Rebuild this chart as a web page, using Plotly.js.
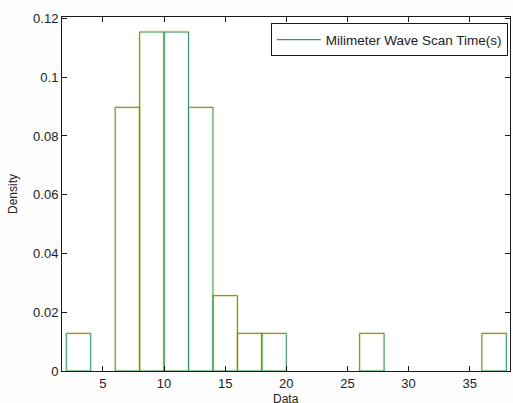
<!DOCTYPE html>
<html>
<head>
<meta charset="utf-8">
<script src="https://cdn.plot.ly/plotly-3.0.1.min.js"></script>
<style>
  html, body { margin: 0; padding: 0; background: #fff; }
  #chart { width: 513px; height: 403px; }
</style>
</head>
<body>
<div id="chart"></div>
<script>
// Histogram of scan times, bins of width 2 from 2 to 38
const binEdgesStart = 2;
const binWidth = 2;
const binCounts = [1, 0, 7, 9, 9, 7, 2, 1, 1, 0, 0, 0, 1, 0, 0, 0, 0, 1];
const seriesName = 'Milimeter Wave Scan Time(s)';
const xTicks = [5, 10, 15, 20, 25, 30, 35];
const yTicks = [0, 0.02, 0.04, 0.06, 0.08, 0.1, 0.12];
const yTickText = ['0', '0.02', '0.04', '0.06', '0.08', '0.1', '0.12'];

const total = binCounts.reduce((a, b) => a + b, 0);
const centers = binCounts.map((_, i) => binEdgesStart + binWidth * (i + 0.5));
const density = binCounts.map(c => c / (total * binWidth));

const green = '#33976e';
const yellow = 'rgba(236,210,110,0.3)';
const font = 'Liberation Sans, Arial, sans-serif';

// empty bins get no outline so nothing is drawn along the baseline
const edgeWidths = (w) => binCounts.map(c => (c > 0 ? w : 0));

const barBase = {
  type: 'bar',
  x: centers,
  y: density,
  width: binWidth,
  showlegend: false,
  hoverinfo: 'skip'
};

const traces = [
  Object.assign({}, barBase, { marker: { color: 'rgba(0,0,0,0)', line: { color: yellow, width: edgeWidths(3) } } }),
  Object.assign({}, barBase, { marker: { color: 'rgba(0,0,0,0)', line: { color: green, width: edgeWidths(1) } } }),
  {
    type: 'scatter', mode: 'lines', x: [null], y: [null],
    name: seriesName, line: { color: green, width: 1.2 }, showlegend: true
  }
];

const axisCommon = {
  showline: true, linecolor: '#1a1a1a', linewidth: 1,
  mirror: 'ticks', ticks: 'inside', ticklen: 5, tickcolor: '#1a1a1a',
  showgrid: false, zeroline: false,
  tickfont: { family: font, size: 13, color: '#222' }
};

const titleFont = { family: font, size: 12, color: '#222' };

const layout = {
  width: 513, height: 403,
  margin: { l: 62, r: 3, t: 17, b: 32 },
  paper_bgcolor: '#fdfdfd', plot_bgcolor: '#ffffff',
  barmode: 'overlay', bargap: 0,
  showlegend: true,
  legend: {
    x: 0.995, y: 0.982, xanchor: 'right', yanchor: 'top',
    bordercolor: '#1a1a1a', borderwidth: 1, bgcolor: '#ffffff',
    itemwidth: 44,
    font: { family: font, size: 13.5, color: '#222' }
  },
  xaxis: Object.assign({}, axisCommon, {
    range: [1.65, 38.3], tickvals: xTicks, ticktext: xTicks.map(String)
  }),
  yaxis: Object.assign({}, axisCommon, {
    range: [0, 0.1205], tickvals: yTicks, ticktext: yTickText
  }),
  // axis titles placed as paper annotations for exact positioning
  annotations: [
    { text: 'Data', xref: 'paper', yref: 'paper', x: 0.5, y: 0, xanchor: 'center', yanchor: 'top',
      yshift: -19, showarrow: false, font: titleFont },
    { text: 'Density', xref: 'paper', yref: 'paper', x: 0, y: 0.5, xanchor: 'center', yanchor: 'middle',
      xshift: -49, textangle: -90, showarrow: false, font: titleFont }
  ]
};

Plotly.newPlot('chart', traces, layout, { displayModeBar: false, staticPlot: true });
</script>
</body>
</html>
